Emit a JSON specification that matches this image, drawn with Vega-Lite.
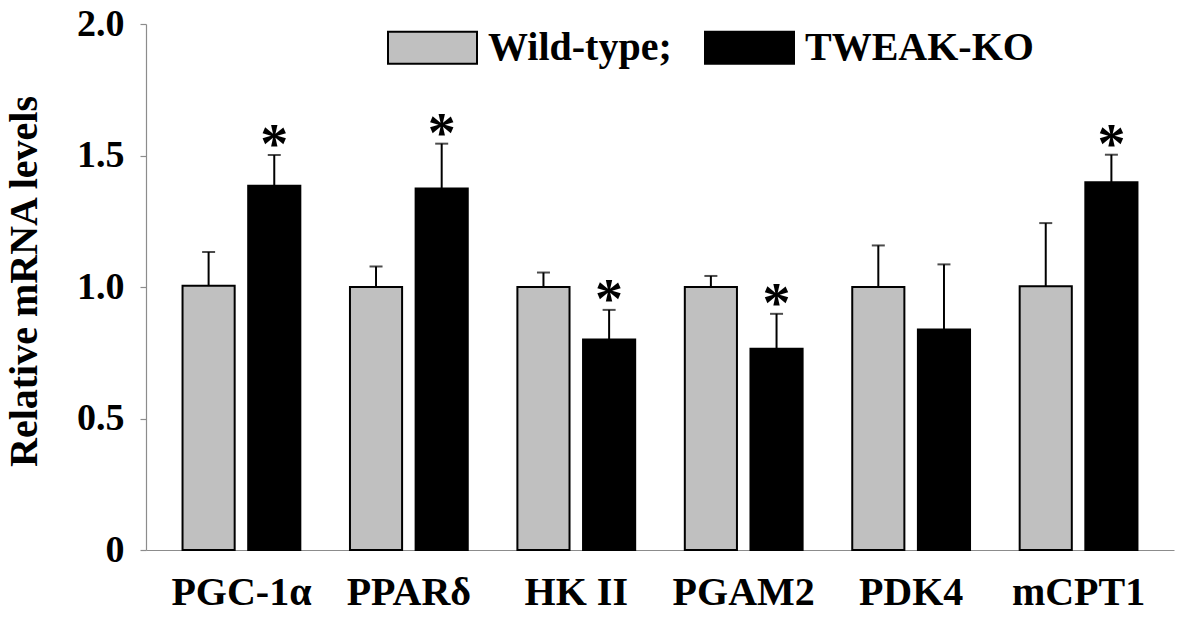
{
  "$schema": "https://vega.github.io/schema/vega-lite/v6.json",
  "width": 1028,
  "height": 526,
  "autosize": {"type": "none"},
  "padding": {"left": 146, "top": 24, "right": 26, "bottom": 68},
  "background": "white",
  "config": {
    "view": {"stroke": null},
    "font": "Liberation Serif"
  },
  "data": {
    "values": [
      {"gene": "PGC-1α", "group": "Wild-type", "value": 1.005, "upper": 1.133, "sig": false},
      {"gene": "PGC-1α", "group": "TWEAK-KO", "value": 1.385, "upper": 1.502, "sig": true},
      {"gene": "PPARδ", "group": "Wild-type", "value": 1.0, "upper": 1.078, "sig": false},
      {"gene": "PPARδ", "group": "TWEAK-KO", "value": 1.375, "upper": 1.545, "sig": true},
      {"gene": "HK II", "group": "Wild-type", "value": 1.0, "upper": 1.055, "sig": false},
      {"gene": "HK II", "group": "TWEAK-KO", "value": 0.8, "upper": 0.913, "sig": true},
      {"gene": "PGAM2", "group": "Wild-type", "value": 1.0, "upper": 1.042, "sig": false},
      {"gene": "PGAM2", "group": "TWEAK-KO", "value": 0.765, "upper": 0.898, "sig": true},
      {"gene": "PDK4", "group": "Wild-type", "value": 1.0, "upper": 1.158, "sig": false},
      {"gene": "PDK4", "group": "TWEAK-KO", "value": 0.838, "upper": 1.086, "sig": false},
      {"gene": "mCPT1", "group": "Wild-type", "value": 1.003, "upper": 1.243, "sig": false},
      {"gene": "mCPT1", "group": "TWEAK-KO", "value": 1.398, "upper": 1.503, "sig": true}
    ]
  },
  "encoding": {
    "x": {
      "field": "gene", "type": "nominal", "sort": null,
      "scale": {"paddingInner": 0, "paddingOuter": 0.07},
      "axis": {
        "title": null, "labelAngle": 0, "ticks": false,
        "labelFont": "Liberation Serif", "labelFontWeight": "bold", "labelFontSize": 40,
        "labelColor": "black", "labelPadding": 22, "labelBaseline": "top",
        "domainColor": "#8c8c8c", "domainWidth": 1.2
      }
    },
    "xOffset": {
      "field": "group", "type": "nominal", "sort": ["Wild-type", "TWEAK-KO"],
      "scale": {"paddingInner": 0.206, "paddingOuter": 0.378}
    }
  },
  "layer": [
    {
      "mark": {"type": "bar", "stroke": "black", "strokeWidth": 2},
      "encoding": {
        "y": {
          "field": "value", "type": "quantitative",
          "scale": {"domain": [0, 2], "nice": false},
          "axis": {
            "title": "Relative mRNA levels",
            "titleFont": "Liberation Serif", "titleFontWeight": "bold", "titleFontSize": 40,
            "titleColor": "black", "titleAngle": -90, "titleBaseline": "alphabetic",
            "titleX": -110, "titleY": 257, "titleAlign": "center",
            "values": [0, 0.5, 1, 1.5, 2],
            "labelExpr": "datum.value == 0 ? '0' : format(datum.value, '.1f')",
            "labelFont": "Liberation Serif", "labelFontWeight": "bold", "labelFontSize": 38,
            "labelColor": "black", "labelPadding": 16,
            "tickSize": 6, "tickColor": "#8c8c8c", "tickWidth": 1.2,
            "domainColor": "#8c8c8c", "domainWidth": 1.2, "grid": false
          }
        },
        "color": {
          "field": "group", "type": "nominal", "sort": ["Wild-type", "TWEAK-KO"],
          "scale": {"domain": ["Wild-type", "TWEAK-KO"], "range": ["#c0c0c0", "#000000"]},
          "legend": {
            "title": null, "orient": "none", "direction": "horizontal",
            "legendX": 241, "legendY": -22,
            "symbolType": "M-1,-0.36H1V0.36H-1Z", "symbolSize": 7921,
            "symbolStrokeColor": "black", "symbolStrokeWidth": 2, "symbolOpacity": 1,
            "labelFont": "Liberation Serif", "labelFontWeight": "bold", "labelFontSize": 40,
            "labelColor": "black", "labelOffset": 10, "columnPadding": 29,
            "labelLimit": 400,
            "labelExpr": "datum.label == 'Wild-type' ? 'Wild-type;' : datum.label"
          }
        }
      }
    },
    {
      "mark": {"type": "rule", "color": "black", "strokeWidth": 2},
      "encoding": {
        "y": {"field": "value", "type": "quantitative"},
        "y2": {"field": "upper"}
      }
    },
    {
      "mark": {"type": "tick", "color": "black", "thickness": 2, "size": 13, "orient": "horizontal"},
      "encoding": {
        "y": {"field": "upper", "type": "quantitative"}
      }
    },
    {
      "transform": [{"filter": "datum.sig"}],
      "mark": {"type": "text", "text": "*", "font": "Liberation Serif", "fontSize": 56, "fontWeight": "bold", "baseline": "alphabetic", "align": "center", "color": "black", "dy": 8},
      "encoding": {
        "y": {"field": "upper", "type": "quantitative"}
      }
    }
  ]
}
